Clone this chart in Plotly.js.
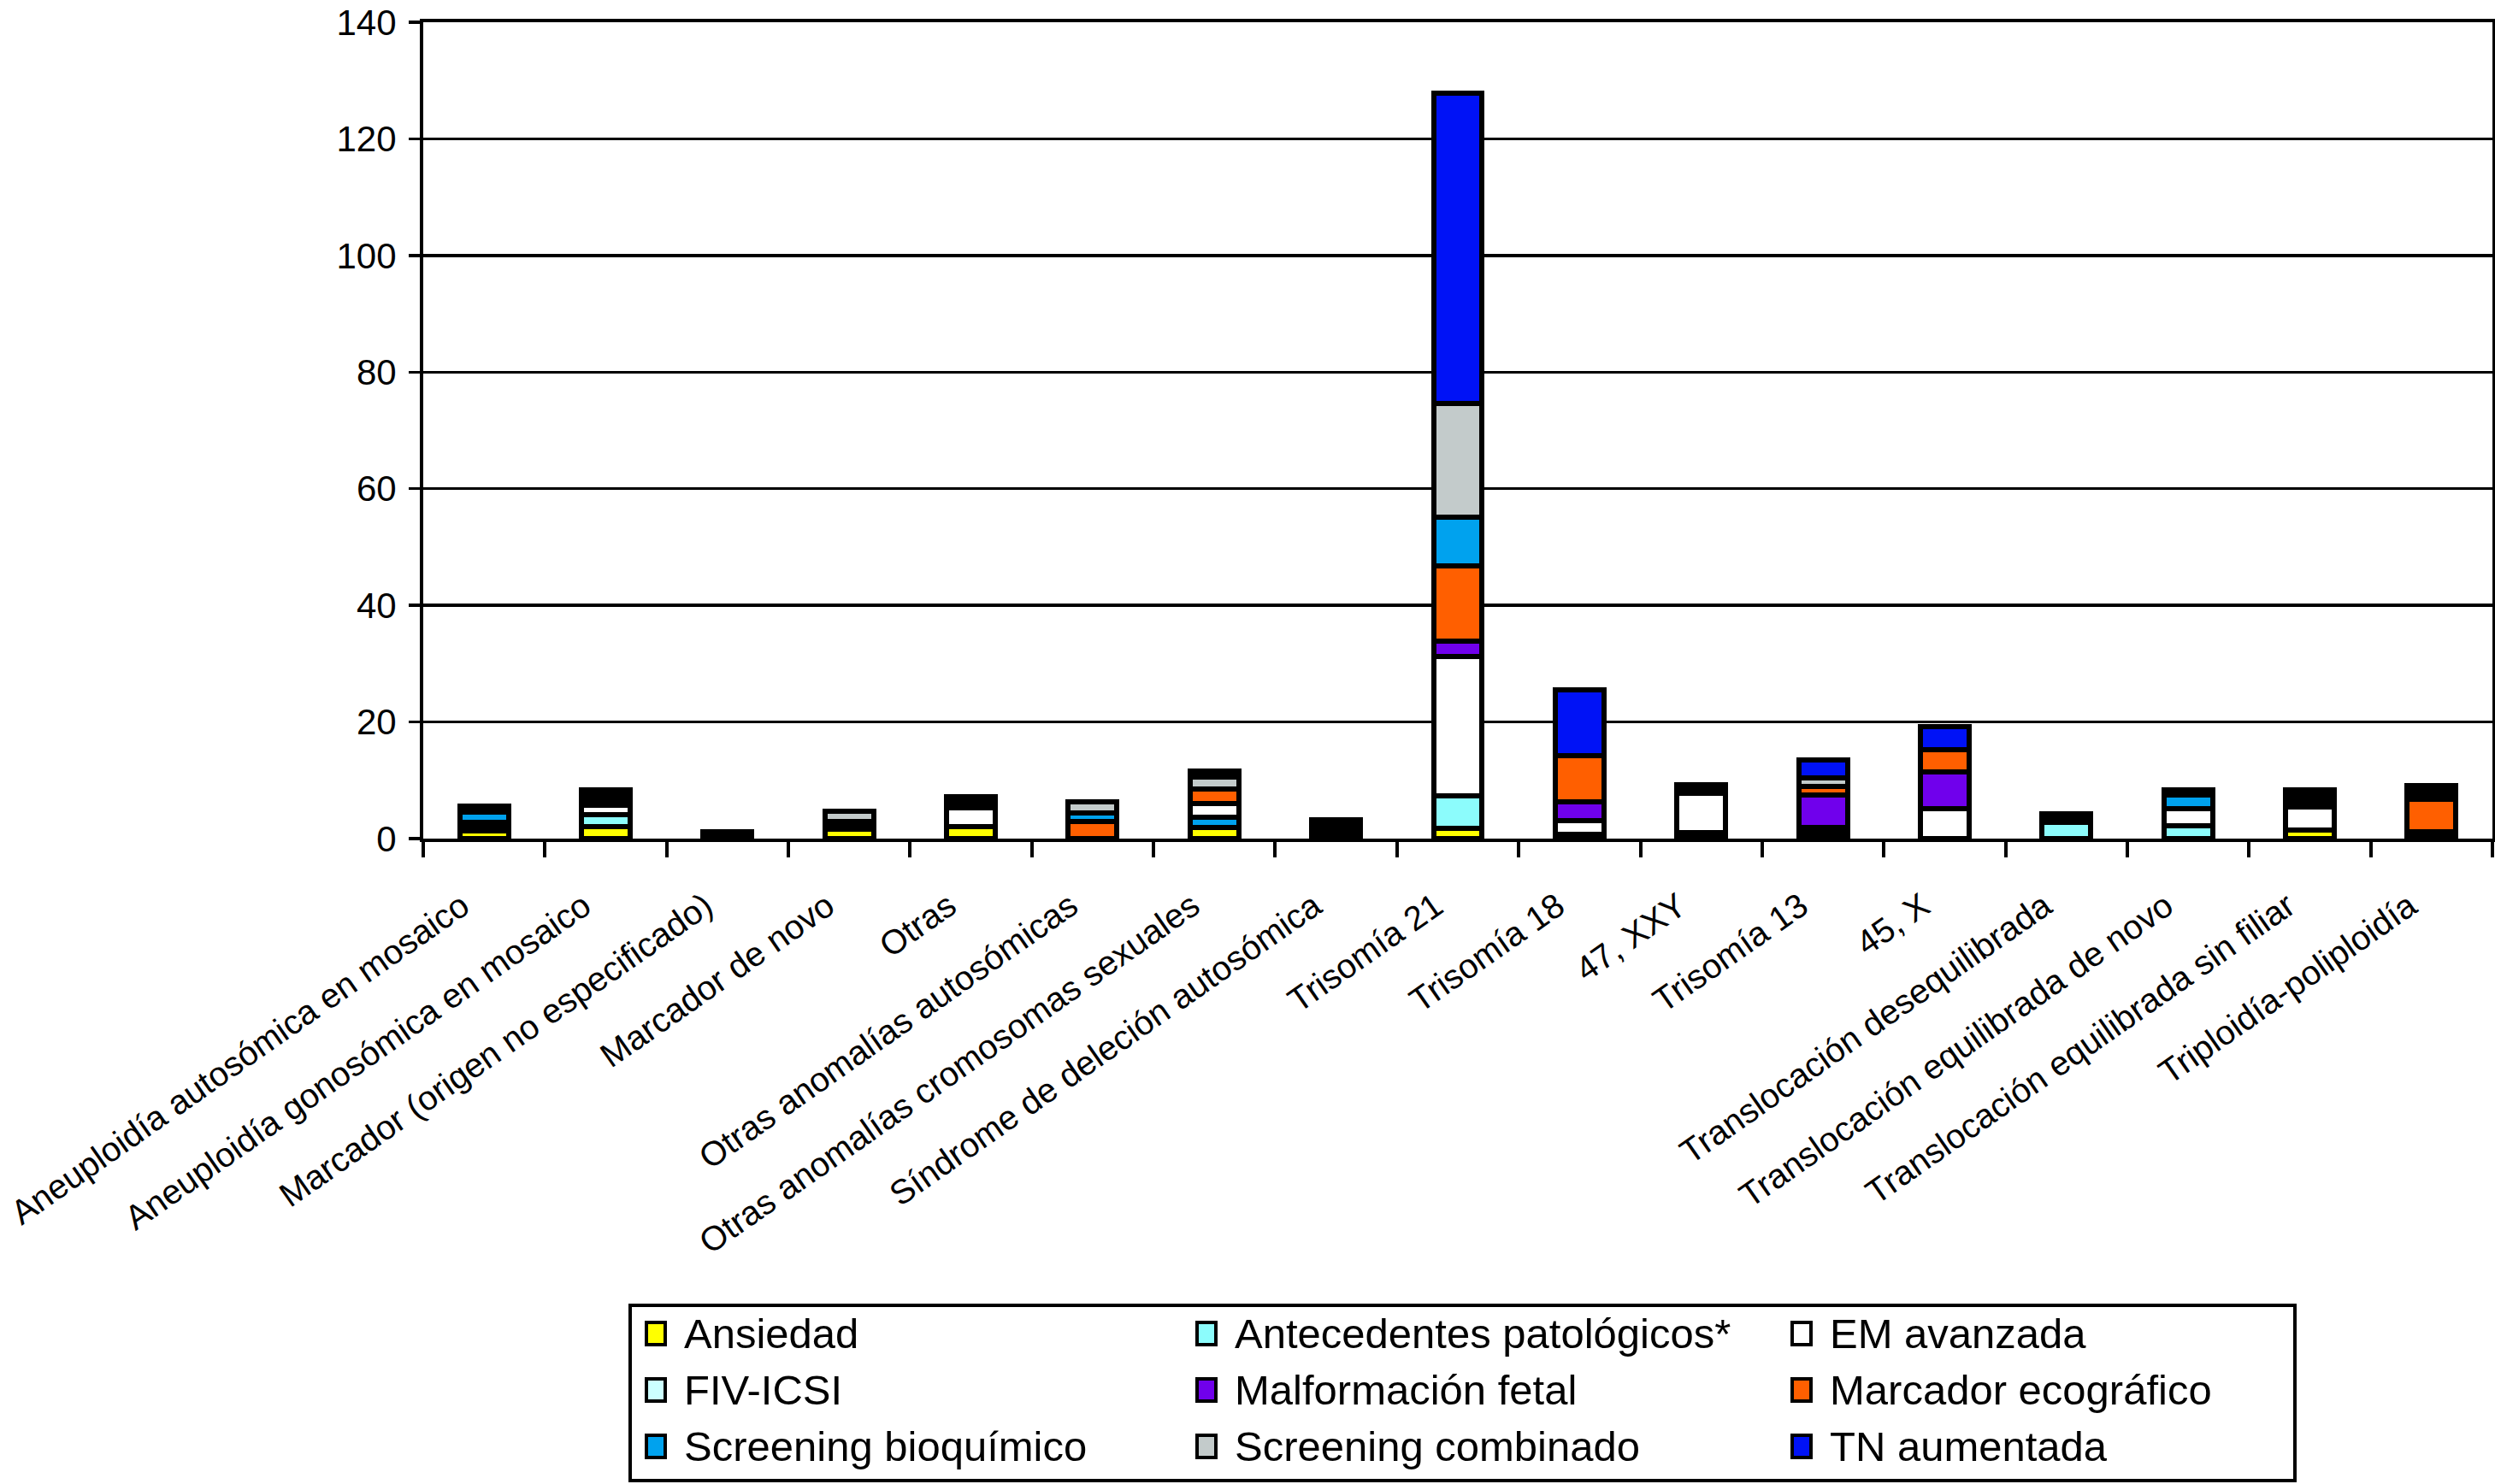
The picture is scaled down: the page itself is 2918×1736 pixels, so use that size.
<!DOCTYPE html>
<html>
<head>
<meta charset="utf-8">
<script src="https://cdn.plot.ly/plotly-3.0.1.min.js"></script>
<style>html,body{margin:0;padding:0;background:#fff}</style>
</head>
<body>
<div id="chart" style="width:2918px;height:1736px"></div>
<script>
// categories on the x axis
var categories = ['Aneuploidía autosómica en mosaico', 'Aneuploidía gonosómica en mosaico',
  'Marcador (origen no especificado)', 'Marcador de novo', 'Otras',
  'Otras anomalías autosómicas', 'Otras anomalías cromosomas sexuales',
  'Síndrome de deleción autosómica', 'Trisomía 21', 'Trisomía 18', '47, XXY',
  'Trisomía 13', '45, X', 'Translocación desequilibrada',
  'Translocación equilibrada de novo', 'Translocación equilibrada sin filiar',
  'Triploidía-poliploidía'];

// legend series (key -> name)
var seriesKeys = ['ANS', 'ANT', 'EM', 'FIV', 'MAL', 'MAR', 'SB', 'SC', 'TN'];
var seriesNames = ['Ansiedad', 'Antecedentes patológicos*', 'EM avanzada', 'FIV-ICSI',
  'Malformación fetal', 'Marcador ecográfico', 'Screening bioquímico',
  'Screening combinado', 'TN aumentada'];

// stacked segments per bar, bottom to top. 'K' = small segments that print as solid black
var segAutosomica = [['ANS', 1.3], ['K', 1.45], ['SB', 1.8], ['K', 1.0]];
var segGonosomica = [['ANS', 2.0], ['ANT', 2.1], ['EM', 1.6], ['K', 2.6]];
var segMarcadorNoEsp = [['K', 1.15]];
var segMarcadorNovo = [['ANS', 1.6], ['K', 1.3], ['SC', 1.75]];
var segOtras = [['ANS', 2.05], ['EM', 3.2], ['K', 1.95]];
var segOtrasAutosomicas = [['MAR', 2.95], ['SB', 1.45], ['SC', 1.85]];
var segOtrasSexuales = [['ANS', 1.85], ['SB', 1.75], ['EM', 2.4], ['MAR', 2.5], ['SC', 2.05], ['K', 1.05]];
var segDelecion = [['K', 3.2]];
var segTrisomia21 = [['ANS', 1.7], ['ANT', 5.6], ['EM', 23.9], ['MAL', 2.7], ['MAR', 12.9], ['SB', 8.3], ['SC', 19.5], ['TN', 53.2]];
var segTrisomia18 = [['K', 0.8], ['EM', 2.25], ['MAL', 3.3], ['MAR', 7.8], ['TN', 11.35]];
var seg47XXY = [['K', 1.05], ['EM', 6.65], ['K', 1.5]];
var segTrisomia13 = [['K', 1.95], ['MAL', 5.55], ['MAR', 1.45], ['SC', 1.5], ['TN', 3.0]];
var seg45X = [['EM', 5.1], ['MAL', 6.4], ['MAR', 3.75], ['TN', 3.95]];
var segTransDeseq = [['ANT', 2.85], ['K', 1.45]];
var segTransNovo = [['ANT', 2.25], ['EM', 2.95], ['SB', 2.3], ['K', 0.85]];
var segTransSinFiliar = [['ANS', 1.5], ['EM', 3.95], ['K', 2.85]];
var segTriploidia = [['K', 1.2], ['MAR', 5.55], ['K', 2.3]];

var stacks = [segAutosomica, segGonosomica, segMarcadorNoEsp, segMarcadorNovo, segOtras,
  segOtrasAutosomicas, segOtrasSexuales, segDelecion, segTrisomia21, segTrisomia18,
  seg47XXY, segTrisomia13, seg45X, segTransDeseq, segTransNovo, segTransSinFiliar,
  segTriploidia];

var colors = {
  ANS: '#ffff00', ANT: '#8cfcfc', EM: '#ffffff', FIV: '#ccffff', MAL: '#7000ec',
  MAR: '#ff5f00', SB: '#00a2ee', SC: '#c3cbcb', TN: '#0012f6', K: '#000000'
};

var font = 'Liberation Sans, Arial, Helvetica, sans-serif';

// one trace per stack level
var traces = [];
var depth = Math.max.apply(null, stacks.map(function (s) { return s.length; }));
for (var i = 0; i < depth; i++) {
  traces.push({
    type: 'bar',
    x: categories,
    y: stacks.map(function (s) { return s[i] ? s[i][1] : null; }),
    text: stacks.map(function (s) {
      if (!s[i]) return '';
      var k = seriesKeys.indexOf(s[i][0]);
      return k >= 0 ? seriesNames[k] : '';
    }),
    hovertemplate: '%{x}<br>%{text}: %{y}<extra></extra>',
    textposition: 'none',
    marker: {
      color: stacks.map(function (s) { return s[i] ? colors[s[i][0]] : '#000'; }),
      line: {color: '#000', width: 6}
    },
    showlegend: false
  });
}

// plot area in pixels, used to place the drawn legend
var P = {l: 495, r: 2915, t: 26, b: 981};
function px(x) { return (x - P.l) / (P.r - P.l); }
function py(y) { return (P.b - y) / (P.b - P.t); }

var shapes = [{
  type: 'rect', xref: 'paper', yref: 'paper',
  x0: px(737), x1: px(2684), y0: py(1527), y1: py(1732),
  line: {color: '#000', width: 4}, fillcolor: 'rgba(0,0,0,0)'
}];
var annotations = [];
var colX = [756, 1400, 2096];
var rowY = [1560, 1626, 1692];
seriesKeys.forEach(function (key, n) {
  var cx = colX[n % 3], cy = rowY[Math.floor(n / 3)];
  shapes.push({
    type: 'rect', xref: 'paper', yref: 'paper',
    x0: px(cx), x1: px(cx + 22), y0: py(cy + 13), y1: py(cy - 13),
    line: {color: '#000', width: 4}, fillcolor: colors[key]
  });
  annotations.push({
    xref: 'paper', yref: 'paper', x: px(cx + 42), y: py(cy),
    xanchor: 'left', yanchor: 'middle', showarrow: false,
    text: seriesNames[n], font: {family: font, size: 49, color: '#000'}
  });
});

var layout = {
  width: 2918,
  height: 1736,
  margin: {l: P.l, r: 2918 - P.r, t: P.t, b: 1736 - P.b, pad: 0},
  paper_bgcolor: '#fff',
  plot_bgcolor: '#fff',
  barmode: 'stack',
  bargap: 0.6,
  showlegend: false,
  font: {family: font, color: '#000'},
  xaxis: {
    type: 'category',
    showline: true, linecolor: '#000', linewidth: 4, mirror: true,
    ticks: 'outside', tickson: 'boundaries', ticklen: 18, tickwidth: 4, tickcolor: '#000',
    tickangle: -35,
    ticklabelstandoff: 36,
    ticklabelshift: -26,
    tickfont: {family: font, size: 40, color: '#000'},
    showgrid: false, automargin: false
  },
  yaxis: {
    range: [0, 140], dtick: 20,
    showline: true, linecolor: '#000', linewidth: 4, mirror: true,
    ticks: 'outside', ticklen: 13, tickwidth: 3.5, tickcolor: '#000',
    ticklabelstandoff: 6,
    tickfont: {family: font, size: 42, color: '#000'},
    showgrid: true, gridcolor: '#000', gridwidth: 3.5,
    zeroline: false, automargin: false
  },
  shapes: shapes,
  annotations: annotations
};

Plotly.newPlot('chart', traces, layout, {displayModeBar: false, staticPlot: true});
</script>
</body>
</html>
